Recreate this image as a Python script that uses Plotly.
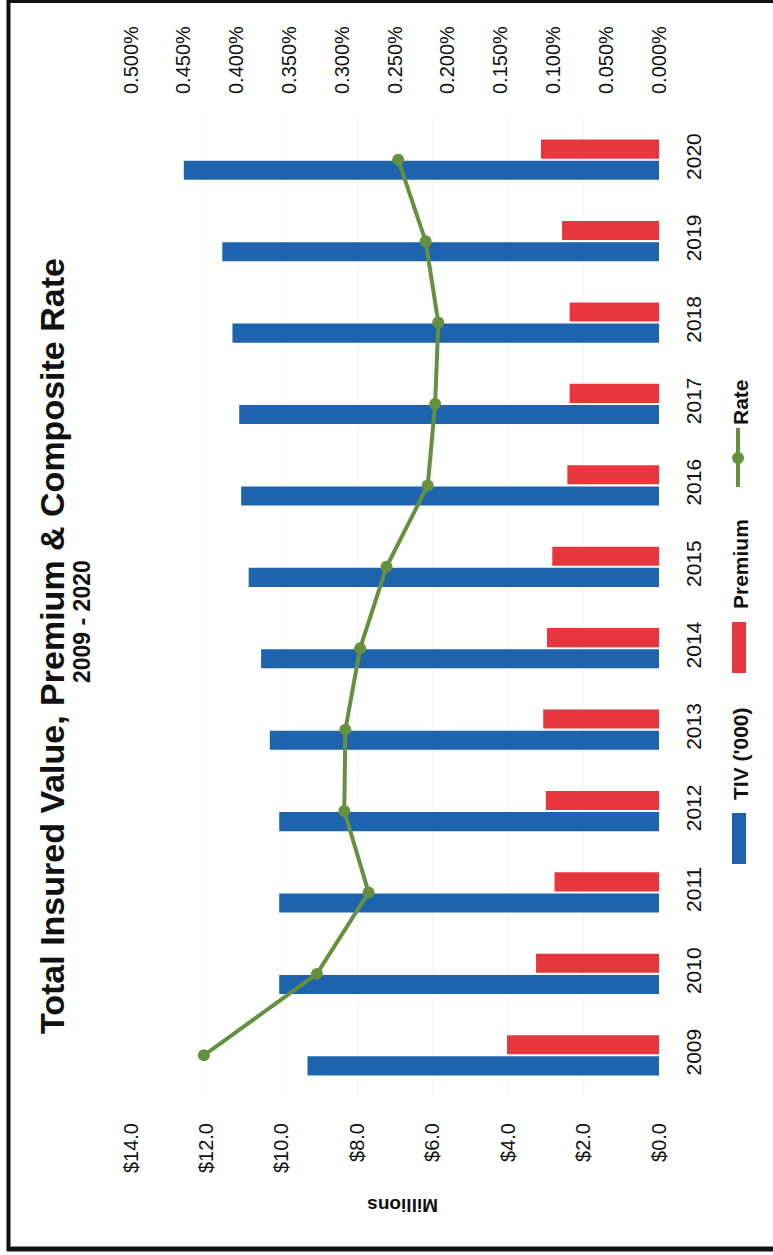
import plotly.graph_objects as go

# Chart data (TIV and premium in $ millions, rate in percent)
years = ["2009", "2010", "2011", "2012", "2013", "2014",
         "2015", "2016", "2017", "2018", "2019", "2020"]
tiv = [9.32, 10.07, 10.07, 10.07, 10.32, 10.55, 10.88, 11.08, 11.13, 11.31, 11.58, 12.60]
premium = [4.03, 3.26, 2.77, 3.00, 3.07, 2.97, 2.83, 2.43, 2.37, 2.37, 2.57, 3.13]
rate_pct = [0.431, 0.324, 0.275, 0.298, 0.297, 0.283, 0.258, 0.219, 0.212, 0.209, 0.221, 0.247]

money_ticks = [0, 2, 4, 6, 8, 10, 12, 14]
rate_ticks = [0.0, 0.05, 0.10, 0.15, 0.20, 0.25, 0.30, 0.35, 0.40, 0.45, 0.50]

BLUE = "#1e63ad"
RED = "#e8363f"
GREEN = "#64903f"
FONT = "Liberation Sans, Arial, sans-serif"
NARROW = "Liberation Sans Narrow, Liberation Sans, Arial, sans-serif"

W, H = 773, 1255
L, R, T, B = 131, 114, 119, 159
PW, PH = W - L - R, H - T - B


def px(x):
    return (x - L) / PW


def py(y):
    return (H - B - y) / PH


fig = go.Figure()
fig.add_trace(go.Bar(y=years, x=tiv, orientation="h", name="TIV ('000)",
                     marker=dict(color=BLUE, line=dict(width=0))))
fig.add_trace(go.Bar(y=years, x=premium, orientation="h", name="Premium",
                     marker=dict(color=RED, line=dict(width=0))))
fig.add_trace(go.Scatter(y=years, x=rate_pct, xaxis="x2", yaxis="y", mode="lines+markers",
                         name="Rate", line=dict(color=GREEN, width=4),
                         marker=dict(color=GREEN, size=12)))

fig.update_layout(
    width=W, height=H,
    margin=dict(l=L, r=R, t=T, b=B),
    paper_bgcolor="white", plot_bgcolor="white",
    barmode="group", bargap=0.48, bargroupgap=0.1,
    showlegend=False,
    font=dict(family=FONT, color="#111111"),
    xaxis=dict(range=[14, 0], tickvals=money_ticks,
               ticktext=["$%.1f" % v for v in money_ticks],
               tickangle=-90, ticks="outside", ticklen=18, tickcolor="rgba(0,0,0,0)",
               showgrid=True, gridcolor="#f3f3f3", gridwidth=1,
               zeroline=False, showline=False,
               tickfont=dict(size=20, family=FONT, color="#111111")),
    xaxis2=dict(overlaying="x", side="top", range=[0.5, 0], tickvals=rate_ticks,
                ticktext=["%.3f%%" % v for v in rate_ticks],
                tickangle=-90, ticks="outside", ticklen=20, tickcolor="rgba(0,0,0,0)",
                showgrid=False, zeroline=False, showline=False,
                tickfont=dict(size=20, family=FONT, color="#111111")),
    yaxis=dict(type="category", side="right", range=[-0.5, 11.5],
               tickangle=-90, ticks="outside", ticklen=16, tickcolor="rgba(0,0,0,0)",
               showgrid=False, zeroline=False, showline=False,
               tickfont=dict(size=21, family=FONT, color="#111111")),
)

annotations = [
    dict(text="<b>Total Insured Value, Premium &amp; Composite Rate</b>",
         x=px(52), y=py(646), textangle=-90, font=dict(size=34, family=NARROW, color="#111111")),
    dict(text="<b>2009 - 2020</b>",
         x=px(82), y=py(622), textangle=-90, font=dict(size=23, family=NARROW, color="#111111")),
    dict(text="<b>Millions</b>",
         x=px(403), y=py(1206), textangle=180, font=dict(size=19, family=FONT, color="#111111")),
    dict(text="<b>TIV ('000)</b>",
         x=px(740), y=py(754), textangle=-90, font=dict(size=21, family=FONT, color="#111111")),
    dict(text="<b>Premium</b>",
         x=px(740), y=py(564), textangle=-90, font=dict(size=21, family=FONT, color="#111111")),
    dict(text="<b>Rate</b>",
         x=px(740), y=py(402), textangle=-90, font=dict(size=21, family=FONT, color="#111111")),
]
for a in annotations:
    a.update(xref="paper", yref="paper", showarrow=False, xanchor="center", yanchor="middle")
fig.update_layout(annotations=annotations)

shapes = [
    # legend keys
    dict(type="rect", x0=px(732), x1=px(746), y0=py(813), y1=py(864),
         fillcolor=BLUE, line=dict(width=0)),
    dict(type="rect", x0=px(732), x1=px(746), y0=py(622), y1=py(673),
         fillcolor=RED, line=dict(width=0)),
    dict(type="line", x0=px(738), x1=px(738), y0=py(428), y1=py(487),
         line=dict(color=GREEN, width=4)),
    dict(type="circle", x0=px(732), x1=px(744), y0=py(452), y1=py(464),
         fillcolor=GREEN, line=dict(width=0)),
    # frame
    dict(type="line", x0=px(8.5), x1=px(8.5), y0=py(0), y1=py(1251),
         line=dict(color="#111111", width=4)),
    dict(type="line", x0=px(7), x1=px(773), y0=py(1.5), y1=py(1.5),
         line=dict(color="#111111", width=3)),
    dict(type="line", x0=px(7), x1=px(773), y0=py(1249), y1=py(1249),
         line=dict(color="#111111", width=5)),
]
for s in shapes:
    s.update(xref="paper", yref="paper", layer="above")
fig.update_layout(shapes=shapes)

fig.write_html("out.html")
